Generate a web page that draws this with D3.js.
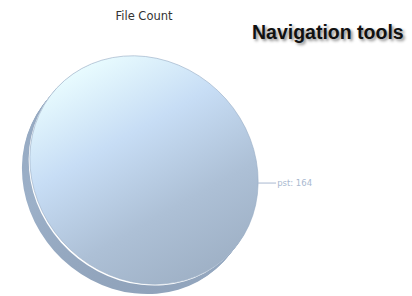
<!DOCTYPE html>
<html>
<head>
<meta charset="utf-8">
<script src="https://cdn.jsdelivr.net/npm/d3@7"></script>
<style>
  body { margin: 0; background: #fff; }
  .title { font-family: "DejaVu Sans", sans-serif; font-size: 11.5px; fill: #333; }
  .nav { font-family: "Liberation Sans", Arial, sans-serif; font-weight: bold; font-size: 19.5px; fill: #111;
         text-shadow: 2px 2px 3px rgba(0,0,0,0.45); }
  .lbl { font-family: "DejaVu Sans", sans-serif; font-size: 8.5px; fill: #a9b9d0; }
</style>
</head>
<body>
<svg id="chart"></svg>
<script>
document.addEventListener("DOMContentLoaded", function () {
  const categories = ["pst"];
  const values = [164];
  const chartTitle = "File Count";
  const heading = "Navigation tools";

  const width = 412, height = 296;
  const cx = 144, cy = 170, r = 114;
  const depth = 11;           // disc thickness in px
  const tilt = "rotate(45) scale(1.05,0.95)";

  const svg = d3.select("#chart").attr("width", width).attr("height", height);

  const defs = svg.append("defs");
  const topGrad = defs.append("linearGradient").attr("id", "topGrad")
    .attr("x1", 0).attr("y1", 0.35).attr("x2", 1).attr("y2", 0.6);
  topGrad.append("stop").attr("offset", "0%").attr("stop-color", "#eafdff");
  topGrad.append("stop").attr("offset", "35%").attr("stop-color", "#c7ddf5");
  topGrad.append("stop").attr("offset", "70%").attr("stop-color", "#adc0d6");
  topGrad.append("stop").attr("offset", "100%").attr("stop-color", "#9fb1c6");

  const sideGrad = defs.append("linearGradient").attr("id", "sideGrad")
    .attr("x1", 0).attr("y1", 0).attr("x2", 1).attr("y2", 1);
  sideGrad.append("stop").attr("offset", "0%").attr("stop-color", "#8ea2bb");
  sideGrad.append("stop").attr("offset", "60%").attr("stop-color", "#9cb0c8");
  sideGrad.append("stop").attr("offset", "100%").attr("stop-color", "#8a9cb4");

  // label angle so the leader line leaves on the right side
  const theta = 0.85;
  const pie = d3.pie().sort(null).startAngle(theta - Math.PI).endAngle(theta + Math.PI);
  const slices = pie(values);
  const arc = d3.arc().innerRadius(0).outerRadius(r);

  // side / thickness: stacked copies shifted down-left
  const sideSteps = d3.range(depth, 0, -1);
  svg.append("g").selectAll("path.side")
    .data(sideSteps)
    .enter()
    .append("path")
    .attr("class", "side")
    .attr("transform", (d) => "translate(" + (cx - d * 0.72) + "," + (cy + d * 0.9) + ") " + tilt)
    .attr("d", arc(slices[0]))
    .attr("fill", "url(#sideGrad)");

  // thin white rim between side and top
  svg.append("path")
    .attr("transform", "translate(" + (cx - 1.2) + "," + (cy + 1.4) + ") " + tilt)
    .attr("d", arc(slices[0]))
    .attr("fill", "#ffffff");

  const top = svg.append("g").attr("transform", "translate(" + cx + "," + cy + ") " + tilt);
  top.selectAll("path.slice")
    .data(slices)
    .enter()
    .append("path")
    .attr("class", "slice")
    .attr("d", arc)
    .attr("fill", "url(#topGrad)")
    .attr("stroke", "#9aaec6")
    .attr("stroke-width", 0.6);

  // leader line + label, anchored on the rim at the slice mid-angle
  const rimArc = d3.arc().innerRadius(r).outerRadius(r);
  const m = top.node().getCTM();
  slices.forEach(function (s, i) {
    const c = rimArc.centroid(s);
    const px = m.a * c[0] + m.c * c[1] + m.e;
    const py = m.b * c[0] + m.d * c[1] + m.f;
    svg.append("line")
      .attr("x1", px).attr("y1", py)
      .attr("x2", px + 18).attr("y2", py)
      .attr("stroke", "#a9b9d0").attr("stroke-width", 1);
    svg.append("text").attr("class", "lbl")
      .attr("x", px + 19).attr("y", py + 3)
      .text(categories[i] + ": " + values[i]);
  });

  svg.append("text").attr("class", "title")
    .attr("x", 144).attr("y", 20).attr("text-anchor", "middle")
    .text(chartTitle);

  svg.append("text").attr("class", "nav")
    .attr("x", 252).attr("y", 39)
    .text(heading);
});
</script>
</body>
</html>
